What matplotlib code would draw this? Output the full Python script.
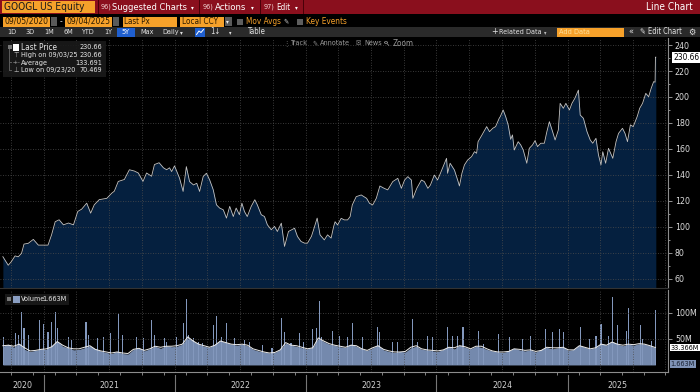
import matplotlib
matplotlib.use("Agg")
import matplotlib.pyplot as plt
import matplotlib.transforms as mtrans
from matplotlib.patches import Rectangle, Circle
from matplotlib.lines import Line2D
from matplotlib.ticker import MultipleLocator
from matplotlib import font_manager
import pandas as pd

# Bloomberg uses a narrow face; take one if the system has it
narrow = [f for f in font_manager.fontManager.ttflist
          if ("Narrow" in f.name or "Condensed" in f.name or f.stretch in ("condensed", "semi-condensed"))
          and f.style == "normal" and f.weight in (400, "normal", "regular", "book")]
if narrow:
    plt.rcParams["font.family"] = [narrow[0].name, "Liberation Sans", "DejaVu Sans"]
    plt.rcParams["font.stretch"] = narrow[0].stretch
    WF = 1.0
else:
    plt.rcParams["font.family"] = ["Liberation Sans", "DejaVu Sans"]
    WF = 1.25

# ---- price (GOOGL last px) ----
price_dates = [
    "2020-09-08", "2020-09-23", "2020-10-02", "2020-10-12", "2020-10-21", "2020-10-30",
    "2020-11-06", "2020-11-18", "2020-12-02", "2020-12-16", "2020-12-30", "2021-01-12",
    "2021-01-22", "2021-02-01", "2021-02-12", "2021-02-24", "2021-03-10", "2021-03-24",
    "2021-04-05", "2021-04-16", "2021-04-30", "2021-05-11", "2021-05-21", "2021-06-04",
    "2021-06-25", "2021-07-09", "2021-07-16", "2021-07-27", "2021-08-13", "2021-08-27",
    "2021-09-10", "2021-09-21", "2021-10-04", "2021-10-14", "2021-10-28", "2021-11-05",
    "2021-11-18", "2021-11-30", "2021-12-09", "2021-12-17", "2021-12-23", "2021-12-31",
    "2022-01-14", "2022-01-24", "2022-02-02", "2022-02-11", "2022-02-22", "2022-03-03",
    "2022-03-11", "2022-03-21", "2022-03-30", "2022-04-08", "2022-04-18", "2022-04-27",
    "2022-05-06", "2022-05-16", "2022-05-25", "2022-06-03", "2022-06-13", "2022-06-21",
    "2022-06-30", "2022-07-07", "2022-07-14", "2022-07-22", "2022-08-02", "2022-08-12",
    "2022-08-19", "2022-08-30", "2022-09-08", "2022-09-16", "2022-09-27", "2022-10-06",
    "2022-10-14", "2022-10-25", "2022-11-03", "2022-11-14", "2022-11-23", "2022-12-01",
    "2022-12-09", "2022-12-19", "2022-12-29", "2023-01-06", "2023-01-17", "2023-01-23",
    "2023-02-02", "2023-02-10", "2023-02-22", "2023-03-03", "2023-03-13", "2023-03-20",
    "2023-03-24", "2023-03-31", "2023-04-10", "2023-04-19", "2023-04-28", "2023-05-05",
    "2023-05-11", "2023-05-22", "2023-06-05", "2023-06-20", "2023-06-28", "2023-07-07",
    "2023-07-17", "2023-07-27", "2023-08-08", "2023-08-18", "2023-09-01", "2023-09-15",
    "2023-09-25", "2023-10-04", "2023-10-13", "2023-10-23", "2023-10-27", "2023-11-07",
    "2023-11-20", "2023-11-28", "2023-12-08", "2023-12-15", "2023-12-26", "2024-01-04",
    "2024-01-12", "2024-01-29", "2024-02-01", "2024-02-08", "2024-02-20", "2024-02-29",
    "2024-03-05", "2024-03-12", "2024-03-19", "2024-03-28", "2024-04-08", "2024-04-16",
    "2024-04-22", "2024-04-26", "2024-05-07", "2024-05-20", "2024-05-28", "2024-06-06",
    "2024-06-14", "2024-06-24", "2024-06-27", "2024-07-05", "2024-07-12", "2024-07-19",
    "2024-07-26", "2024-07-31", "2024-08-05", "2024-08-16", "2024-08-23", "2024-08-30",
    "2024-09-09", "2024-09-16", "2024-09-25", "2024-10-02", "2024-10-09", "2024-10-18",
    "2024-10-28", "2024-11-04", "2024-11-11", "2024-11-20", "2024-11-27", "2024-12-06",
    "2024-12-11", "2024-12-20", "2024-12-27", "2025-01-06", "2025-01-13", "2025-01-21",
    "2025-01-31", "2025-02-05", "2025-02-14", "2025-02-24", "2025-03-05", "2025-03-12",
    "2025-03-21", "2025-03-28", "2025-04-04", "2025-04-09", "2025-04-17", "2025-04-25",
    "2025-05-07", "2025-05-16", "2025-05-23", "2025-06-03", "2025-06-10", "2025-06-17",
    "2025-06-25", "2025-07-03", "2025-07-14", "2025-07-21", "2025-07-29", "2025-08-07",
    "2025-08-15", "2025-08-22", "2025-08-29", "2025-09-02", "2025-09-03", "2025-09-04",
]
price_vals = [
    77.1, 70.5, 73.4, 77.7, 77.0, 79.6,
    86.8, 87.4, 90.4, 86.0, 86.0, 86.0,
    94.0, 104.0, 105.5, 101.6, 103.0, 101.6,
    111.9, 113.7, 118.3, 110.6, 117.0, 121.0,
    122.0, 126.0, 127.5, 135.0, 136.5, 144.0,
    143.0, 141.5, 135.0, 141.5, 139.0, 148.0,
    149.4, 145.5, 144.0, 145.5, 142.6, 147.0,
    137.5, 127.3, 146.4, 134.9, 132.3, 133.6,
    127.3, 138.8, 141.3, 136.2, 128.6, 117.0,
    114.5, 113.2, 106.8, 115.8, 108.0, 114.5,
    109.4, 118.3, 111.9, 108.0, 115.8, 120.9,
    117.0, 109.4, 108.0, 101.7, 97.8, 100.4,
    96.5, 102.9, 85.0, 96.5, 97.8, 99.0,
    92.7, 88.8, 87.5, 87.5, 92.7, 97.8,
    106.8, 93.9, 90.0, 93.9, 91.4, 100.2,
    104.0, 101.5, 106.6, 105.4, 105.4, 107.9,
    116.9, 123.3, 124.6, 122.0, 118.2, 116.9,
    122.0, 131.5, 129.7, 128.5, 134.9, 137.4,
    129.7, 136.1, 138.7, 136.1, 122.0, 129.7,
    136.1, 134.9, 129.7, 132.2, 139.9, 136.1,
    141.3, 152.8, 141.3, 149.0, 143.8, 136.1,
    131.5, 141.3, 147.7, 151.5, 154.1, 157.9,
    156.7, 165.6, 170.8, 177.2, 173.3, 175.9,
    177.2, 183.6, 184.9, 190.0, 184.9, 178.5,
    167.4, 170.8, 159.2, 165.6, 163.1, 159.2,
    149.0, 160.5, 163.1, 166.4, 161.8, 164.4,
    164.4, 173.3, 181.0, 173.3, 166.9, 174.6,
    195.1, 191.3, 195.1, 190.0, 195.1, 198.9,
    205.3, 186.1, 183.6, 173.3, 166.9, 164.4,
    168.2, 155.4, 147.7, 157.9, 149.0, 160.5,
    152.8, 165.6, 172.0, 175.9, 172.0, 165.6,
    178.5, 177.2, 184.9, 191.3, 195.1, 202.8,
    200.2, 206.6, 211.8, 211.4, 230.66, 230.66,
]

# ---- volume (millions), semi-monthly base level and its moving average ----
vol_base = [
    36, 40, 34, 42, 30, 26, 28, 31,
    30, 37, 46, 36, 33, 29, 30, 33, 37, 31, 27, 24, 22, 26, 22, 21, 30, 33, 27, 31, 36, 32, 37, 35,
    36, 40, 54, 46, 40, 36, 34, 40, 47, 43, 40, 38, 40, 37, 30, 27, 25, 23, 24, 30, 42, 38, 36, 33,
    31, 34, 52, 45, 40, 38, 35, 34, 40, 36, 31, 28, 33, 38, 29, 26, 24, 26, 25, 33, 36, 30, 29, 27,
    26, 30, 35, 31, 38, 34, 31, 36, 34, 30, 27, 25, 24, 27, 32, 29, 27, 29, 25, 30, 34, 31, 33, 35,
    28, 30, 38, 34, 31, 33, 42, 38, 46, 40, 37, 40, 38, 41, 40, 37, 33,
]
vol_ma = [
    37, 38, 36, 40, 33, 27, 28, 30,
    31, 35, 45, 38, 33, 31, 31, 34, 37, 30, 27, 25, 23, 25, 23, 22, 30, 32, 28, 31, 36, 34, 36, 36,
    37, 40, 54, 46, 40, 37, 34, 38, 46, 43, 40, 39, 40, 38, 31, 28, 25, 23, 24, 29, 43, 38, 37, 34,
    31, 33, 52, 46, 41, 38, 36, 34, 38, 37, 31, 28, 33, 37, 30, 27, 25, 25, 26, 34, 37, 31, 29, 28,
    27, 29, 34, 33, 37, 35, 31, 36, 36, 31, 27, 25, 25, 26, 31, 30, 28, 29, 26, 28, 34, 33, 33, 34,
    29, 29, 37, 34, 31, 33, 40, 38, 44, 40, 38, 40, 39, 41, 40, 37, 33.4,
]
spike_dates = [
    "2020-09-10", "2020-10-12", "2020-10-21", "2020-10-30", "2020-11-06", "2020-11-18",
    "2020-12-18", "2020-12-30", "2021-01-12", "2021-01-22", "2021-02-03", "2021-02-08",
    "2021-03-10", "2021-03-19", "2021-04-28", "2021-05-06", "2021-05-31", "2021-06-17",
    "2021-07-06", "2021-07-28", "2021-08-09", "2021-09-17", "2021-10-06", "2021-10-27",
    "2021-11-05", "2021-12-03", "2021-12-08", "2022-01-05", "2022-01-24", "2022-02-02",
    "2022-02-07", "2022-02-21", "2022-03-07", "2022-03-18", "2022-04-20", "2022-04-27",
    "2022-05-10", "2022-05-25", "2022-06-17", "2022-07-15", "2022-07-27", "2022-09-02",
    "2022-09-29", "2022-10-26", "2022-11-03", "2022-11-21", "2022-12-16", "2022-12-27",
    "2023-01-19", "2023-01-30", "2023-02-08", "2023-02-15", "2023-03-17", "2023-04-05",
    "2023-04-27", "2023-05-11", "2023-06-08", "2023-07-20", "2023-07-26", "2023-08-31",
    "2023-09-15", "2023-10-25", "2023-11-08", "2023-12-08", "2023-12-20", "2024-01-31",
    "2024-02-14", "2024-02-28", "2024-03-15", "2024-04-26", "2024-05-10", "2024-06-21",
    "2024-07-24", "2024-08-28", "2024-09-20", "2024-10-30", "2024-11-20", "2024-12-10",
    "2024-12-20", "2025-02-05", "2025-03-03", "2025-03-21", "2025-04-04", "2025-04-25",
    "2025-05-07", "2025-05-20", "2025-06-13", "2025-06-20", "2025-07-24", "2025-07-29",
    "2025-08-22", "2025-09-03", "2025-09-04",
]
spike_vals = [
    54.6, 61, 58, 102.6, 70.6, 58,
    86.6, 78, 64, 83, 102.6, 70.6,
    54.6, 48, 83, 58, 51, 54.6,
    61, 97.5, 58, 54.6, 51, 86.6,
    58, 51, 45, 54.6, 80, 127,
    58, 51, 45, 41.5, 76.8, 95,
    54.6, 80, 51, 48, 45, 38,
    32, 91, 64, 41.5, 61, 45,
    68.8, 70.6, 123, 54.6, 65.6, 56,
    53, 81, 53, 72, 62.5, 44,
    44, 87.5, 44, 56, 53, 73.8,
    56, 56, 72, 65.6, 40, 59,
    53, 50, 56, 70, 62.5, 68.8,
    62.5, 72, 50, 56, 78, 56,
    131, 76, 65.6, 109, 76, 50,
    47, 105, 1.663,
]
year_labels = ["2020", "2021", "2022", "2023", "2024", "2025"]

price = pd.Series(price_vals, index=pd.to_datetime(price_dates))
vol_idx = pd.date_range("2020-09-08", "2025-09-03", periods=len(vol_base))
spikes = pd.Series(spike_vals, index=pd.to_datetime(spike_dates))

W, H = 700, 392
fig = plt.figure(figsize=(7, 3.92), dpi=100, facecolor="black")
renderer = fig.canvas.get_renderer()
SYM = ["DejaVu Sans"]
ORANGE = "#f6a12a"
VOLC = "#7489ad"


def fx(x):
    return x / W


def fy(y):
    return 1 - y / H


def rect(x0, y0, x1, y1, color, z=1, **kw):
    fig.patches.append(Rectangle((fx(x0), fy(y1)), (x1 - x0) / W, (y1 - y0) / H,
                                 transform=fig.transFigure, facecolor=color,
                                 edgecolor="none", zorder=z, **kw))


def label(x, y, s, color="#e6e6e6", size=7, ha="left", w=None, top=8.5, **kw):
    # w: width the text takes in the reference, the size is fitted to it
    t = fig.text(fx(x), fy(y), s, color=color, fontsize=size, ha=ha, va="center",
                 zorder=5, **kw)
    if w:
        cur = t.get_window_extent(renderer).width
        t.set_fontsize(min(max(size * w * WF / cur, 5.2), top))
    return t


xmin, xmax = pd.Timestamp("2020-08-31"), pd.Timestamp("2025-10-08")
quarters = pd.date_range("2020-10-01", "2025-10-01", freq="QS")
grid_kw = dict(color="#4d4d4d", lw=0.6, ls=(0, (1, 2)), zorder=1.5)

# ---- price panel ----
ax = fig.add_axes([0, fy(288), fx(668), 250 / H])
ax.set_facecolor("black")
ax.fill_between(price.index, 0, price.values, color="#05203f", lw=0, zorder=1)
ax.plot(price.index, price.values, color="#c4c4c4", lw=0.6, zorder=2)
for d in quarters:
    ax.axvline(d, **grid_kw)
for v in range(60, 241, 20):
    ax.axhline(v, **grid_kw)
ax.set_xlim(xmin, xmax)
ax.set_ylim(53, 245.4)
ax.set_xticks([])
ax.yaxis.tick_right()
ax.set_yticks(range(60, 241, 20))
ax.yaxis.set_minor_locator(MultipleLocator(10))
ax.tick_params(axis="y", which="major", colors="#aaaaaa", labelcolor="#dddddd",
               labelsize=6.3, length=3, width=0.6, pad=2)
ax.tick_params(axis="y", which="minor", colors="#aaaaaa", length=1.5, width=0.6)
for s in ["top", "left"]:
    ax.spines[s].set_visible(False)
ax.spines["right"].set_color("#8c8c8c")
ax.spines["bottom"].set_color("#333333")
blend = mtrans.blended_transform_factory(ax.transAxes, ax.transData)
ax.text(1.008, price.iloc[-1], f"{price.iloc[-1]:.2f}", transform=blend, fontsize=6,
        color="black", va="center", ha="left",
        bbox=dict(boxstyle="square,pad=0.12", fc="white", ec="none"))

# ---- volume panel ----
axv = fig.add_axes([0, fy(372), fx(668), 82 / H])
axv.set_facecolor("black")
axv.fill_between(vol_idx, 0, vol_base, color=VOLC, lw=0, zorder=1)
axv.bar(spikes.index, spikes.values, width=3, color="#8398bd", lw=0, zorder=1.2)
axv.plot(vol_idx, vol_ma, color="#eeeeee", lw=0.7, zorder=3)
for d in quarters:
    axv.axvline(d, **grid_kw)
for v in (50, 100):
    axv.axhline(v, **grid_kw)
axv.set_xlim(xmin, xmax)
axv.set_ylim(-13.5, 144)
axv.yaxis.tick_right()
axv.set_yticks([50, 100])
axv.set_yticklabels(["50M", "100M"])
axv.tick_params(axis="y", colors="#aaaaaa", labelcolor="#dddddd", labelsize=6.3,
                length=3, width=0.6, pad=2)
axv.set_xticks(pd.date_range("2020-10-01", "2025-10-01", freq="2MS"))
axv.tick_params(axis="x", colors="#999999", length=2.5, width=0.6, labelbottom=False)
axv.spines["top"].set_visible(False)
axv.spines["left"].set_visible(False)
axv.spines["right"].set_color("#8c8c8c")
axv.spines["bottom"].set_color("#8c8c8c")
vblend = mtrans.blended_transform_factory(axv.transAxes, axv.transData)
axv.text(1.004, vol_ma[-1], "33.366M", transform=vblend, fontsize=5.2, color="black",
         va="center", bbox=dict(boxstyle="square,pad=0.1", fc="white", ec="none"))
axv.text(1.004, spike_vals[-1], "1.663M", transform=vblend, fontsize=5.2, color="#1a2233",
         va="center", bbox=dict(boxstyle="square,pad=0.1", fc="#7f93b6", ec="none"))

# year labels under the volume panel
xblend = mtrans.blended_transform_factory(axv.transData, axv.transAxes)
for yr in year_labels:
    start = max(pd.Timestamp(f"{yr}-01-01"), xmin)
    end = min(pd.Timestamp(f"{int(yr) + 1}-01-01"), xmax)
    axv.text(start + (end - start) / 2, -0.17, yr, transform=xblend, ha="center", va="center",
             color="#d0d0d0", fontsize=6.3, clip_on=False)
    if pd.Timestamp(f"{yr}-01-01") > xmin:
        axv.plot([pd.Timestamp(f"{yr}-01-01")] * 2, [-0.04, -0.27], transform=xblend,
                 color="#777777", lw=0.8, clip_on=False)

# ---- toolbar rows ----
rect(0, 0, 700, 14, "#8a0f1d")
rect(2, 1, 95, 13, ORANGE, z=2)
label(4, 7, "GOOGL US Equity", color="#1a1a1a", size=7.5, w=80)
for xs in (98, 199, 260, 303):
    rect(xs, 0, xs + 1.2, 14, "#4a0008", z=2)
label(101, 7, "96)", color="#f0d0d0", size=5.2)
label(112, 7, "Suggested Charts", color="#ffffff", size=7.5, w=74)
label(191, 7.5, "▾", color="#ffffff", size=4.5, family=SYM)
label(203, 7, "96)", color="#f0d0d0", size=5.2)
label(215, 7, "Actions", color="#ffffff", size=7.5, w=31)
label(251, 7.5, "▾", color="#ffffff", size=4.5, family=SYM)
label(264, 7, "97)", color="#f0d0d0", size=5.2)
label(276, 7, "Edit", color="#ffffff", size=7.5, w=14)
label(295, 7.5, "▾", color="#ffffff", size=4.5, family=SYM)
label(693, 7, "Line Chart", color="#ffffff", size=7.5, ha="right", w=46)

# row 2: date range and options
for x0, x1, s, w in [(3, 50, "09/05/2020", 44), (65, 112, "09/04/2025", 44),
                     (123, 177, "Last Px", 26), (180, 224, "Local CCY", 36)]:
    rect(x0, 16.5, x1, 26.5, ORANGE, z=2)
    label(x0 + 1.5, 21.5, s, color="#2a1a00", size=7, w=w, top=7.5)
for x0 in (51, 113):
    rect(x0, 17, x0 + 6, 26, "#5a5a5a", z=2)
label(59.5, 21.5, "-", color="#dddddd", size=6)
rect(225, 17, 232, 26, "#5a5a5a", z=2)
label(226.3, 21.7, "▾", color="#eeeeee", size=4.5, family=SYM)
rect(237, 18.5, 243, 24.5, "#5e5e5e", z=2)
label(246, 21.5, "Mov Avgs", color=ORANGE, size=7, w=35, top=7.5)
label(283.5, 21.5, "✎", color="#cccccc", size=5, family=SYM)
rect(297, 18.5, 303, 24.5, "#5e5e5e", z=2)
label(306, 21.5, "Key Events", color=ORANGE, size=7, w=41, top=7.5)

# row 3: period buttons and chart tools
rect(0, 27, 700, 37, "#2a2a2a")
for x, s, w in [(7, "1D", 8), (26, "3D", 8), (44, "1M", 9), (63, "6M", 9), (81, "YTD", 13),
                (104, "1Y", 8), (140, "Max", 13), (162, "Daily", 16), (247, "Table", 18)]:
    label(x, 32, s, color="#e2e2e2", size=6.5, w=w, top=6.8)
label(180, 32.5, "▾", color="#e2e2e2", size=4.5, family=SYM)
rect(117, 27.5, 135, 36.5, "#1f5fcf", z=2)
label(121, 32, "5Y", color="#ffffff", size=6.5, w=8, top=6.8)
rect(195, 27.5, 205, 36.5, "#1f5fcf", z=2)
fig.lines.append(Line2D([fx(196.5), fx(199), fx(201), fx(203.5)], [fy(34.5), fy(31), fy(32.5), fy(29.5)],
                        transform=fig.transFigure, color="white", lw=0.7, zorder=4))
label(210, 32, "1↓", color="#e2e2e2", size=5.5, family=SYM)
label(229, 32.5, "▾", color="#e2e2e2", size=4, family=SYM)
label(491, 32, "+", color="#e2e2e2", size=6.5, family=SYM)
label(499, 32, "Related Data", color="#e2e2e2", size=6.5, w=41, top=6.8)
label(544, 32.5, "▾", color="#bbbbbb", size=4, family=SYM)
rect(557, 28, 624, 36.5, ORANGE, z=2)
label(559, 32, "Add Data", color="#ffe09a", size=6.5, w=31, top=6.8)
label(628, 32, "«", color="#e2e2e2", size=6.5)
label(639, 32, "✎", color="#e2e2e2", size=5.5, family=SYM)
label(648, 32, "Edit Chart", color="#e2e2e2", size=6.5, w=34, top=6.8)
label(688, 32, "⚙", color="#e2e2e2", size=6.5, family=SYM)

# chart tools row overlaying the price panel
for x, s in [(283, "⋮"), (312, "✎"), (356, "✉")]:
    label(x, 43, s, color="#8a8a8a", size=5, family=SYM)
fig.patches.append(Circle((fx(386), fy(42.5)), 1.6 / W, transform=fig.transFigure,
                          fill=False, ec="#8a8a8a", lw=0.6, zorder=4))
fig.lines.append(Line2D([fx(387.2), fx(388.8)], [fy(43.8), fy(45.4)], transform=fig.transFigure,
                        color="#8a8a8a", lw=0.6, zorder=4))
for x, s, w in [(290, "Track", 16), (320, "Annotate", 30), (364, "News", 16), (393, "Zoom", 21)]:
    label(x, 43, s, color="#9a9a9a", size=6, w=w, top=6.3)

# ---- price legend box ----
rect(3, 41, 106, 77, "#1a1a1a", z=3, alpha=0.92)
rect(7.5, 45, 11.5, 49, "#777777", z=4)
rect(8.5, 46.8, 10.5, 47.2, "#1a1a1a", z=4)
rect(9.3, 49, 9.9, 70.5, "#5a5a5a", z=4)
for yy in (55, 62.7, 70.3):
    rect(9.3, yy - 0.3, 11.5, yy + 0.3, "#5a5a5a", z=4)
rect(13, 44, 19, 50.5, "#ffffff", z=4)
label(14, 55, "⊤", color="#bbbbbb", size=5, family=SYM)
label(12.5, 62.7, "-+-", color="#bbbbbb", size=4, family=SYM)
label(14, 70.3, "⊥", color="#bbbbbb", size=5, family=SYM)
legend_rows = [("Last Price", "230.66", 36, 22), ("High on 09/03/25", "230.66", 56, 22),
               ("Average", "133.691", 26, 23), ("Low on 09/23/20", "70.469", 53, 20)]
for (name, val, wn, wv), yy in zip(legend_rows, (47.3, 55, 62.7, 70.3)):
    label(21, yy, name, color="#e8e8e8", size=6, w=wn, top=6.5)
    label(102, yy, val, color="#e8e8e8", size=6, ha="right", w=wv, top=6.5)

# ---- volume legend box ----
rect(5, 293.5, 69, 305, "#1a1a1a", z=3, alpha=0.92)
rect(7, 297, 11, 301, "#777777", z=4)
rect(8, 298.8, 10, 299.2, "#1a1a1a", z=4)
rect(13, 295.5, 19.5, 302.5, "#8a9ec2", z=4)
label(21, 299.3, "Volume", color="#e8e8e8", size=6, w=21, top=6.5)
label(67, 299.3, "1.663M", color="#e8e8e8", size=6, ha="right", w=20, top=6.5)

fig.savefig("out.png", dpi=100, facecolor="black")
